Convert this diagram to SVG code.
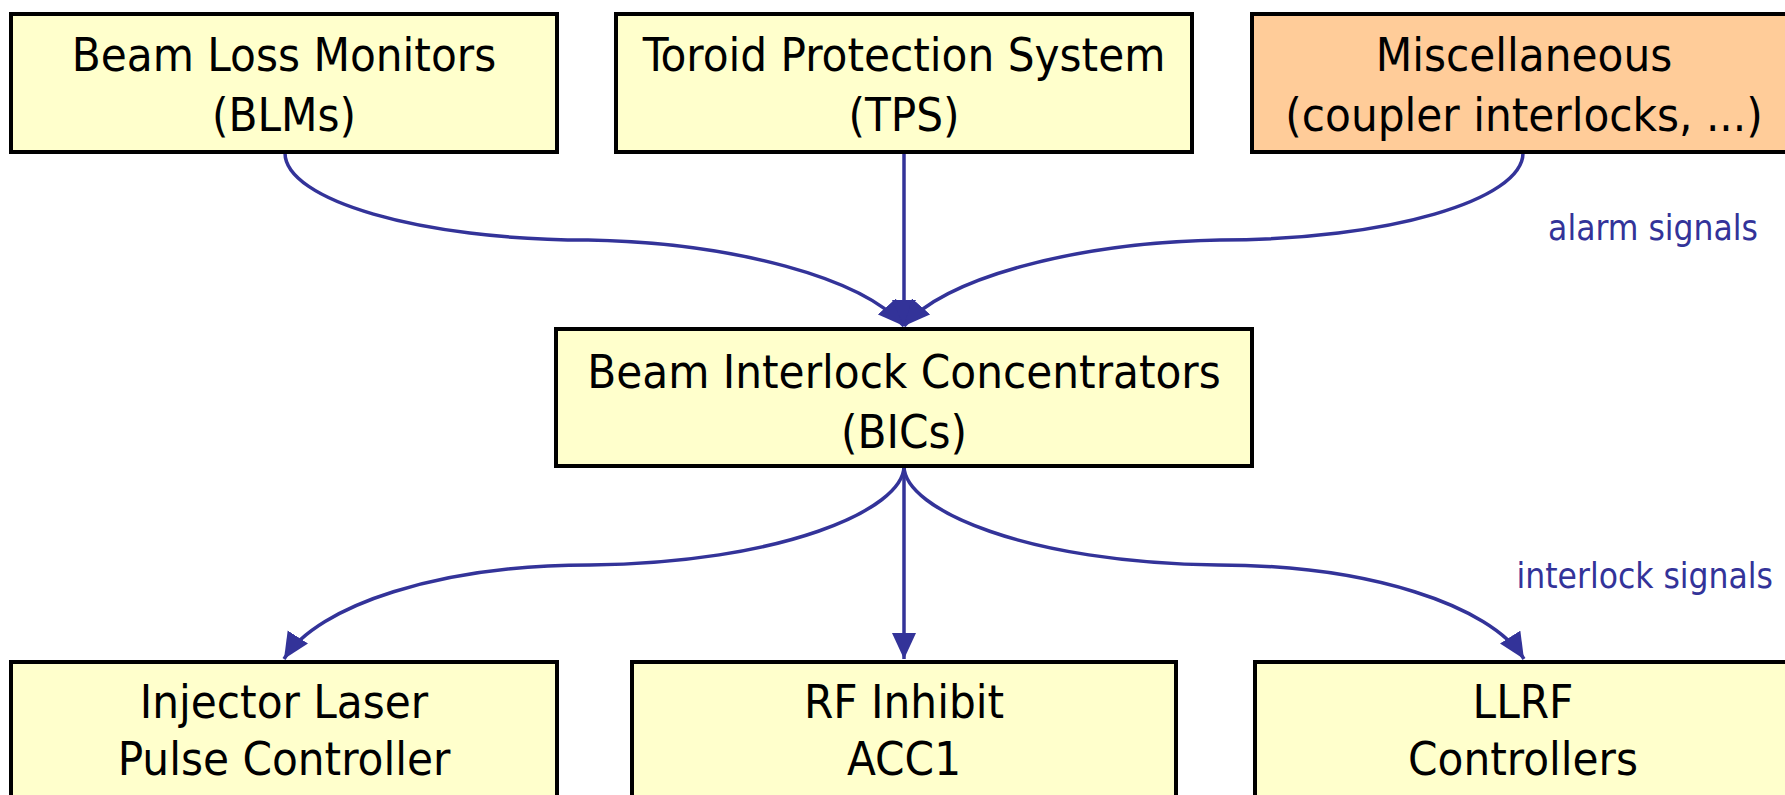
<svg xmlns="http://www.w3.org/2000/svg" width="1785" height="795" viewBox="0 0 1785 795">
  <style>
    .box { fill: #FFFFCC; stroke: #000000; stroke-width: 4; }
    .misc { fill: #FFCC99; }
    .t { font-family: 'DejaVu Sans Condensed', 'Liberation Sans', sans-serif; font-size: 47px; fill: #000000; text-anchor: middle; }
    .lbl { font-family: 'DejaVu Sans Condensed', 'Liberation Sans', sans-serif; font-size: 35px; fill: #333399; text-anchor: end; }
    .c { fill: none; stroke: #333399; stroke-width: 3.5; marker-end: url(#ah); }
  </style>
  <defs>
    <marker id="ah" markerUnits="userSpaceOnUse" markerWidth="27" markerHeight="25" refX="26" refY="12" orient="auto" viewBox="0 0 27 25">
      <path d="M0,0 L26,12 L0,24 Z" fill="#333399"/>
    </marker>
  </defs>
  <rect width="1785" height="795" fill="#FFFFFF"/>

  <g id="connectors">
    <path class="c" d="M285,153 C285,200 420,240 588,240 C735,243 862,278 904,326"/>
    <path class="c" d="M904,153 L904,326"/>
    <path class="c" d="M1523,153 C1523,200 1388,240 1220,240 C1073,243 946,278 904,326"/>
    <path class="c" d="M904,466 C904,510 780,563 590,565 C440,565 318,605 284,659"/>
    <path class="c" d="M904,466 L904,659"/>
    <path class="c" d="M904,466 C904,510 1028,563 1218,565 C1368,565 1490,605 1524,659"/>
    <text class="lbl" x="1758" y="240">alarm signals</text>
    <text class="lbl" x="1773" y="588">interlock signals</text>
  </g>

  <g id="blms">
    <rect class="box" x="11" y="14" width="546" height="138"/>
    <text class="t" x="284" y="71">Beam Loss Monitors</text>
    <text class="t" x="284" y="131">(BLMs)</text>
  </g>
  <g id="tps">
    <rect class="box" x="616" y="14" width="576" height="138"/>
    <text class="t" x="904" y="71">Toroid Protection System</text>
    <text class="t" x="904" y="131">(TPS)</text>
  </g>
  <g id="misc">
    <rect class="box misc" x="1252" y="14" width="560" height="138"/>
    <text class="t" x="1524" y="71">Miscellaneous</text>
    <text class="t" x="1524" y="131">(coupler interlocks, ...)</text>
  </g>
  <g id="bics">
    <rect class="box" x="556" y="329" width="696" height="137"/>
    <text class="t" x="904" y="388">Beam Interlock Concentrators</text>
    <text class="t" x="904" y="448">(BICs)</text>
  </g>
  <g id="injector">
    <rect class="box" x="11" y="662" width="546" height="160"/>
    <text class="t" x="284" y="718">Injector Laser</text>
    <text class="t" x="284" y="775">Pulse Controller</text>
  </g>
  <g id="rfinhibit">
    <rect class="box" x="632" y="662" width="544" height="160"/>
    <text class="t" x="904" y="718">RF Inhibit</text>
    <text class="t" x="904" y="775">ACC1</text>
  </g>
  <g id="llrf">
    <rect class="box" x="1255" y="662" width="560" height="160"/>
    <text class="t" x="1523" y="718">LLRF</text>
    <text class="t" x="1523" y="775">Controllers</text>
  </g>
</svg>
